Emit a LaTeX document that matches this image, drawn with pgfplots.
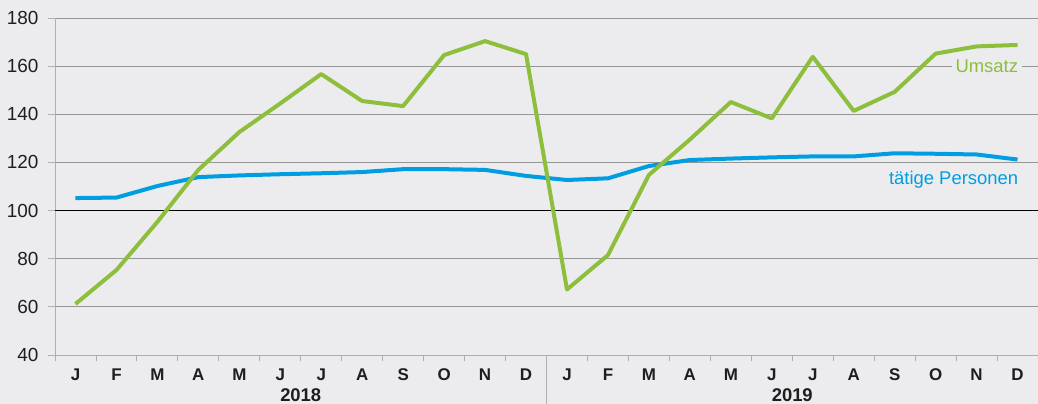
\documentclass[border=0pt]{standalone}
\usepackage{pgfplots}
\pgfplotsset{compat=1.18}
\usepackage{fontspec}
\setmainfont{Liberation Sans}
\definecolor{bg}{RGB}{236,236,239}
\definecolor{grn}{RGB}{141,190,60}
\definecolor{blu}{RGB}{0,158,224}
\definecolor{gridc}{RGB}{150,150,150}
\definecolor{axc}{RGB}{175,175,175}
\definecolor{txt}{RGB}{30,30,30}
\begin{document}
\begin{tikzpicture}
\useasboundingbox[fill=bg] (-55bp,-49bp) rectangle (983bp,355bp);
\begin{axis}[
  at={(0,0)}, anchor=south west,
  scale only axis, width=983bp, height=337bp,
  xmin=-0.5, xmax=23.5, ymin=40, ymax=180,
  clip=false,
  axis x line=bottom, axis y line=left,
  axis line style={-, draw=axc, line width=0.9bp},
  ytick={40,60,...,180},
  ymajorgrids, grid style={gridc, line width=0.9bp},
  xtick={0,...,23},
  xticklabels={J,F,M,A,M,J,J,A,S,O,N,D,J,F,M,A,M,J,J,A,S,O,N,D},
  major x tick style={draw=none},
  minor xtick={-0.5,0.5,...,23.5},
  tick align=outside,
  minor tick length=6bp, major tick length=7bp,
  tick style={axc, line width=0.9bp},
  yticklabel={\fontsize{19}{21}\selectfont\pgfmathprintnumber[assume math mode=true]{\tick}},
  yticklabel style={text=txt, xshift=-6bp},
  xticklabel style={font=\bfseries\fontsize{17}{19}\selectfont, text=txt, yshift=-3bp},
]
\draw[black, line width=1.1bp] (axis cs:-0.5,100) -- (axis cs:23.5,100);
\draw[axc, line width=0.9bp] (axis cs:11.5,40) -- ([yshift=-49bp]axis cs:11.5,40);
\node[font=\bfseries\fontsize{18.5}{20}\selectfont, text=txt] at ([yshift=-40bp]axis cs:5.5,40) {2018};
\node[font=\bfseries\fontsize{18.5}{20}\selectfont, text=txt] at ([yshift=-40bp]axis cs:17.5,40) {2019};
\node[fill=bg, inner xsep=4bp, inner ysep=1bp, text=grn, font=\fontsize{18.5}{20}\selectfont] at (axis cs:22.25,160) {Umsatz};
\node[anchor=east, inner sep=0pt, text=blu, font=\fontsize{18.5}{20}\selectfont] at (axis cs:23.02,113) {tätige Personen};
\addplot[blu, line width=4bp, line join=round] coordinates {
(0,105.2) (1,105.4) (2,110.2) (3,113.9) (4,114.6) (5,115.1) (6,115.5) (7,116.0) (8,117.2) (9,117.2) (10,116.9) (11,114.4)
(12,112.7) (13,113.4) (14,118.5) (15,121.0) (16,121.6) (17,122.1) (18,122.5) (19,122.5) (20,123.8) (21,123.6) (22,123.3) (23,121.2)};
\addplot[grn, line width=4bp, line join=round] coordinates {
(0,61.2) (1,75.3) (2,95.3) (3,116.9) (4,132.6) (5,144.5) (6,156.7) (7,145.5) (8,143.4) (9,164.6) (10,170.4) (11,165.0)
(12,67.2) (13,81.5) (14,114.8) (15,129.5) (16,145.1) (17,138.3) (18,163.9) (19,141.4) (20,149.3) (21,165.2) (22,168.2) (23,168.8)};
\end{axis}
\end{tikzpicture}
\end{document}
